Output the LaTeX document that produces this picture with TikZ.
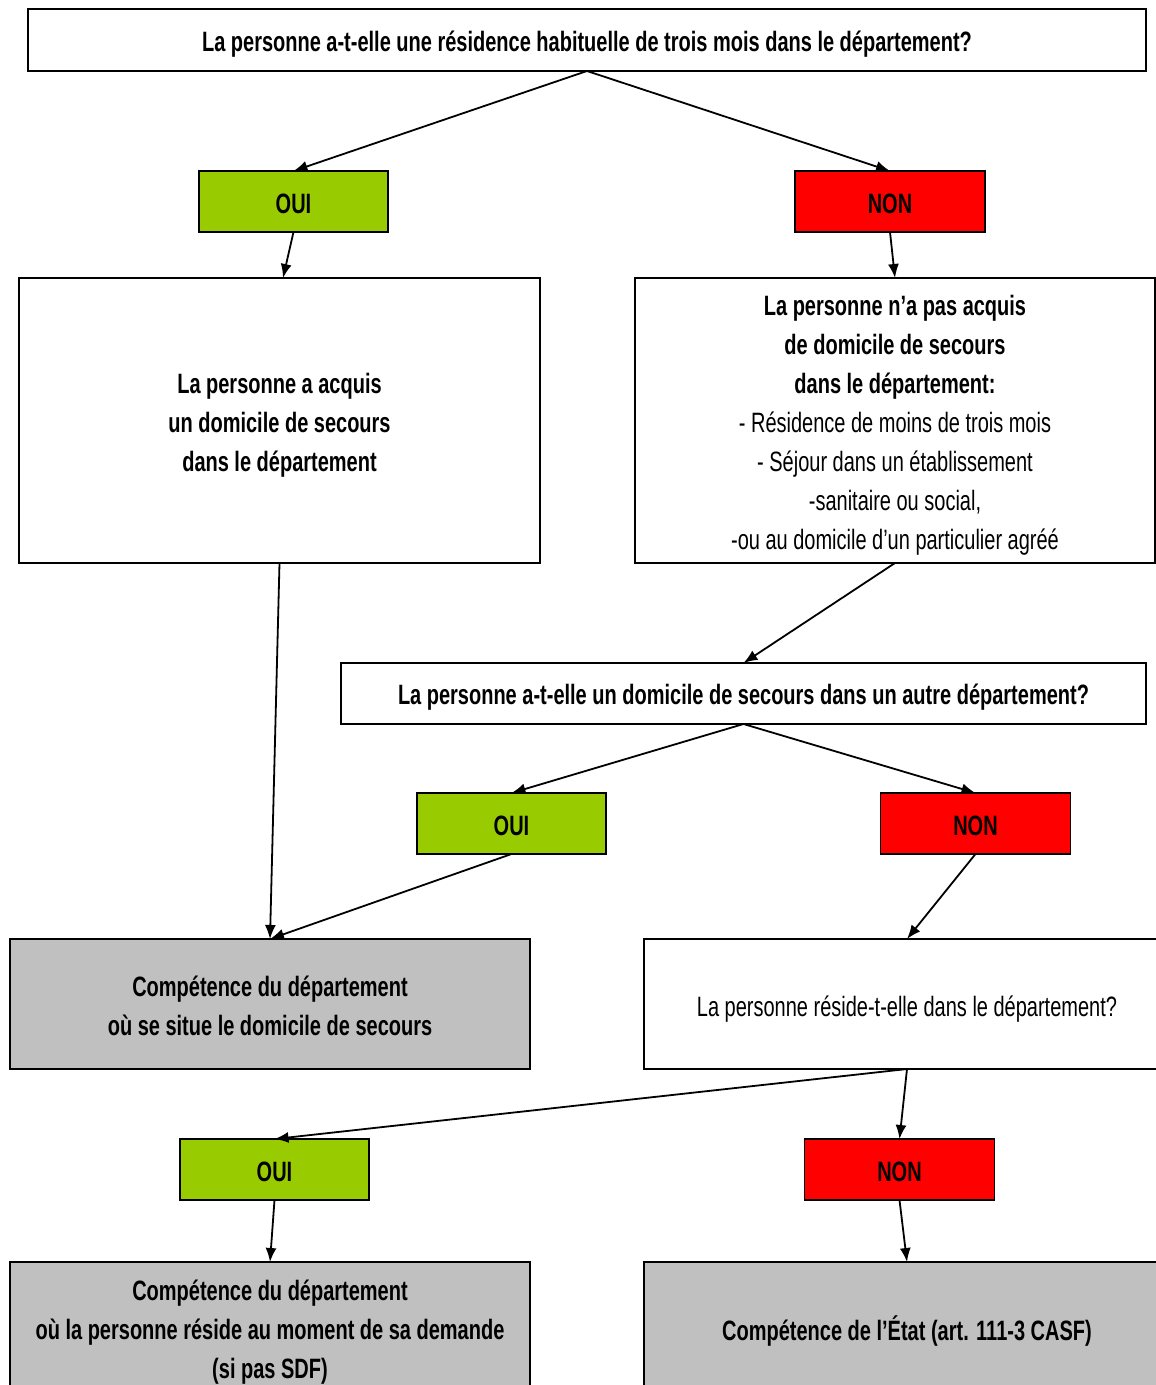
\documentclass[tikz,border=0pt]{standalone}
\usepackage{fontspec}
\setmainfont{Liberation Sans}[FakeStretch=0.714]
\usetikzlibrary{arrows.meta}
\definecolor{ouigreen}{HTML}{99CC00}
\definecolor{nonred}{HTML}{FF0000}
\definecolor{boxgray}{HTML}{C0C0C0}
\newcommand{\txtsize}{\fontsize{28}{39}\selectfont}
\tikzset{
  every node/.style={inner sep=0pt, outer sep=0pt},
  box/.style={draw=black, line width=1.4pt},
  oui/.style={box, fill=ouigreen, minimum width=189pt, minimum height=61pt},
  non/.style={box, fill=nonred, minimum width=190pt, minimum height=61pt},
  res/.style={box, fill=boxgray},
  txt/.style={align=center, font=\txtsize},
  btxt/.style={align=center, font=\txtsize\bfseries},
  conn/.style={line width=1.8pt, -{Latex[length=14pt,width=11pt]}}
}
\begin{document}
\begin{tikzpicture}[x=1pt,y=-1pt]
\useasboundingbox (0,0) rectangle (1156,1385);
\clip (0,0) rectangle (1156,1385);
\fill[white] (0,0) rectangle (1156,1385);
% boxes
\node[box, minimum width=1118pt, minimum height=62pt] (q1) at (587,40) {};
\node[oui] (oui1) at (293.5,201.5) {};
\node[non] (non1) at (890,201.5) {};
\node[box, minimum width=521pt, minimum height=285pt] (acq) at (279.5,420.5) {};
\node[box, minimum width=520pt, minimum height=285pt] (nacq) at (895,420.5) {};
\node[box, minimum width=805pt, minimum height=61pt] (q2) at (743.5,693.5) {};
\node[oui] (oui2) at (511.5,823.5) {};
\node[non] (non2) at (975.5,823.5) {};
\node[res, minimum width=520pt, minimum height=130pt] (comp1) at (270,1004) {};
\node[box, minimum width=526pt, minimum height=130pt] (q3) at (907,1004) {};
\node[oui] (oui3) at (274.5,1169.5) {};
\node[non] (non3) at (899.5,1169.5) {};
\node[res, minimum width=520pt, minimum height=136pt] (comp2) at (270,1330) {};
\node[res, minimum width=526pt, minimum height=136pt] (comp3) at (907,1330) {};
% texts
\node[btxt] (q1t) at ([yshift=-4pt]q1.center) {La personne a-t-elle une résidence habituelle de trois mois dans le département?};
\node[btxt] (oui1t) at ([yshift=-2pt]oui1.center) {OUI};
\node[btxt] (non1t) at ([yshift=-2pt]non1.center) {NON};
\node[btxt] (acqt) at ([yshift=-5pt]acq.center) {La personne a acquis\\un domicile de secours\\dans le département};
\node[txt] (nacqt) at ([yshift=-5pt]nacq.center) {\textbf{La personne n’a pas acquis}\\\textbf{de domicile de secours}\\\textbf{dans le département:}\\- Résidence de moins de trois mois\\- Séjour dans un établissement\\-sanitaire ou social,\\-ou au domicile d’un particulier agréé};
\node[btxt] (q2t) at ([yshift=-4pt]q2.center) {La personne a-t-elle un domicile de secours dans un autre département?};
\node[btxt] (oui2t) at ([yshift=-2pt]oui2.center) {OUI};
\node[btxt] (non2t) at ([yshift=-2pt]non2.center) {NON};
\node[btxt] (comp1t) at ([yshift=-2pt]comp1.center) {Compétence du département\\où se situe le domicile de secours};
\node[txt] (q3t) at ([yshift=-5pt]q3.center) {La personne réside-t-elle dans le département?};
\node[btxt] (oui3t) at ([yshift=-2pt]oui3.center) {OUI};
\node[btxt] (non3t) at ([yshift=-2pt]non3.center) {NON};
\node[btxt] (comp2t) at ([yshift=-2pt]comp2.center) {Compétence du département\\où la personne réside au moment de sa demande\\(si pas SDF)};
\node[btxt] (comp3t) at ([yshift=-1pt]comp3.center) {Compétence de l’État (art. 111-3 CASF)};
% connectors
\draw[conn] (q1.south) -- (oui1.north);
\draw[conn] (q1.south) -- (non1.north);
\draw[conn] (oui1.south) -- ([xshift=3.5pt]acq.north);
\draw[conn] (non1.south) -- (nacq.north);
\draw[conn] (acq.south) -- (comp1.north);
\draw[conn] (nacq.south) -- (q2.north);
\draw[conn] (q2.south) -- (oui2.north);
\draw[conn] (q2.south) -- (non2.north);
\draw[conn] (oui2.south) -- (comp1.north);
\draw[conn] (non2.south) -- (q3.north);
\draw[conn] (q3.south) -- (oui3.north);
\draw[conn] (q3.south) -- (non3.north);
\draw[conn] (oui3.south) -- (comp2.north);
\draw[conn] (non3.south) -- (comp3.north);
\end{tikzpicture}
\end{document}
